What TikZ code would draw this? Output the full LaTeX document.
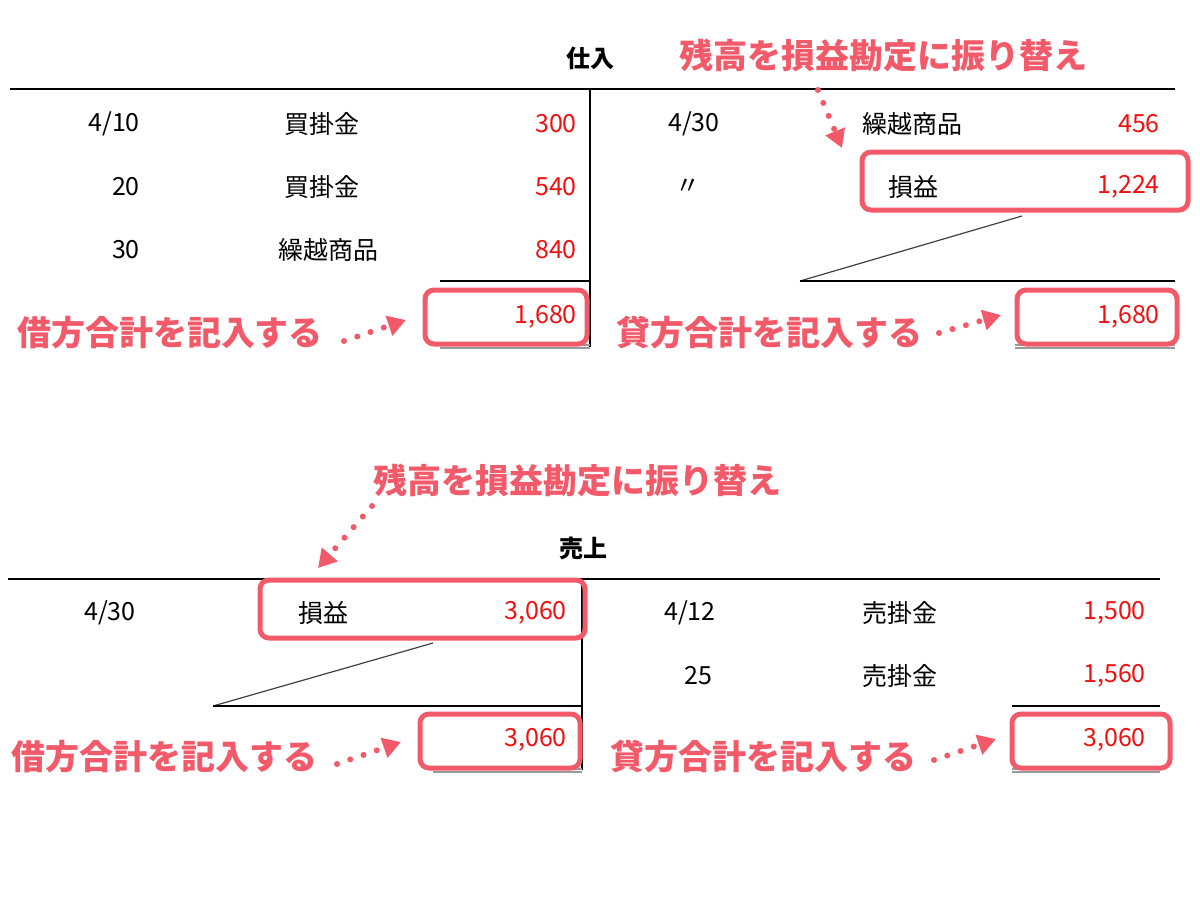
\documentclass[tikz,border=0pt]{standalone}
\usepackage{fontspec}
\setmainfont{Noto Sans CJK JP}
\usetikzlibrary{arrows.meta}
\definecolor{pk}{HTML}{F25A6A}
\definecolor{rd}{HTML}{F01010}
\tikzset{
 txt/.style={font=\fontsize{25}{27}\selectfont, inner sep=0pt},
 num/.style={txt, text=rd, anchor=east},
 note/.style={font=\fontsize{34}{36}\selectfont\bfseries, text=pk, inner sep=0pt},
 hl/.style={draw=pk, line width=5pt, rounded corners=9pt},
 rule/.style={line width=2pt},
 dbl/.style={line width=1.6pt, draw=gray!80},
 darr/.style={pk, line width=6pt, line cap=round, dash pattern=on 0pt off 14pt, -{Triangle[length=18pt,width=20pt]}},
 diag/.style={line width=1.2pt, draw=black!75},
}
\begin{document}
\begin{tikzpicture}[x=1pt,y=-1pt]
\useasboundingbox (0,0) rectangle (1200,900);
% ---------- 仕入 ----------
\node[txt, font=\fontsize{24}{26}\selectfont\bfseries] (t1) at (590,58) {仕入};
\draw[rule] (10,89) -- (1175,89);
\draw[rule] (590,89) -- (590,347);
\node[txt, anchor=east] (d1) at (140,124) {4/10};
\node[txt, anchor=east] (d2) at (140,187) {20};
\node[txt, anchor=east] (d3) at (140,250) {30};
\node[txt] (a1) at (322,124) {買掛金};
\node[txt] (a2) at (322,187) {買掛金};
\node[txt] (a3) at (328,250) {繰越商品};
\node[num] (n1) at (577,124) {300};
\node[num] (n2) at (577,187) {540};
\node[num] (n3) at (577,250) {840};
\draw[rule] (440,281) -- (590,281);
\node[num] (s1) at (577,317) {1,680};
\draw[dbl] (440,345) -- (590,345); \draw[dbl] (440,348) -- (590,348);
\node[txt] (d4) at (694,124) {4/30};
\node[txt] (d5) at (688,187) {〃};
\node[txt, anchor=west] (a4) at (862,124) {繰越商品};
\node[txt, anchor=west] (a5) at (888,187) {損益};
\node[num] (n4) at (1160,124) {456};
\node[num] (n5) at (1160,187) {1,224};
\draw[diag] (800,281) -- (1022,216);
\draw[rule] (800,281) -- (1175,281);
\node[num] (s2) at (1160,317) {1,680};
\draw[dbl] (1015,345) -- (1175,345); \draw[dbl] (1015,348) -- (1175,348);
\draw[hl] (862,152) rectangle (1188,210);
\draw[hl] (425,290) rectangle (587,344);
\draw[hl] (1017,290) rectangle (1177,344);
\node[note] (l1) at (170,333) {借方合計を記入する};
\node[note] (l2) at (769,333) {貸方合計を記入する};
\node[note] (m1) at (883,55) {残高を損益勘定に振り替え};
\coordinate (p1) at (344,341); \coordinate (q1) at (406,320);
\coordinate (p2) at (939,333); \coordinate (q2) at (1001,315);
\coordinate (p3) at (818,90); \coordinate (q3) at (842,148);
\draw[darr] (p1) -- (q1);
\draw[darr] (p2) -- (q2);
\draw[darr] (p3) -- (q3);
% ---------- 売上 ----------
\node[txt, font=\fontsize{24}{26}\selectfont\bfseries] (t2) at (583,548) {売上};
\draw[rule] (8,579) -- (1160,579);
\draw[rule] (582,579) -- (582,770);
\node[txt] (e1) at (110,613) {4/30};
\node[txt] (b1) at (323,613) {損益};
\node[num] (o1) at (567,613) {3,060};
\draw[diag] (213,706) -- (433,643);
\draw[rule] (213,706) -- (582,706);
\node[num] (u1) at (567,740) {3,060};
\draw[dbl] (433,769) -- (582,769); \draw[dbl] (433,772) -- (582,772);
\node[txt] (e2) at (690,613) {4/12};
\node[txt] (e3) at (698,676) {25};
\node[txt] (b2) at (900,613) {売掛金};
\node[txt] (b3) at (900,676) {売掛金};
\node[num] (o2) at (1146,613) {1,500};
\node[num] (o3) at (1146,676) {1,560};
\draw[rule] (1012,706) -- (1160,706);
\node[num] (u2) at (1146,740) {3,060};
\draw[dbl] (1012,769) -- (1160,769); \draw[dbl] (1012,772) -- (1160,772);
\draw[hl] (260,580) rectangle (585,638);
\draw[hl] (420,714) rectangle (580,768);
\draw[hl] (1012,714) rectangle (1170,768);
\node[note] (l3) at (165,757) {借方合計を記入する};
\node[note] (l4) at (763,757) {貸方合計を記入する};
\node[note] (m2) at (577,480) {残高を損益勘定に振り替え};
\coordinate (p4) at (337,764); \coordinate (q4) at (401,742);
\coordinate (p5) at (934,760); \coordinate (q5) at (996,739);
\coordinate (p6) at (372,506); \coordinate (q6) at (318,568);
\draw[darr] (p4) -- (q4);
\draw[darr] (p5) -- (q5);
\draw[darr] (p6) -- (q6);
\end{tikzpicture}
\end{document}
